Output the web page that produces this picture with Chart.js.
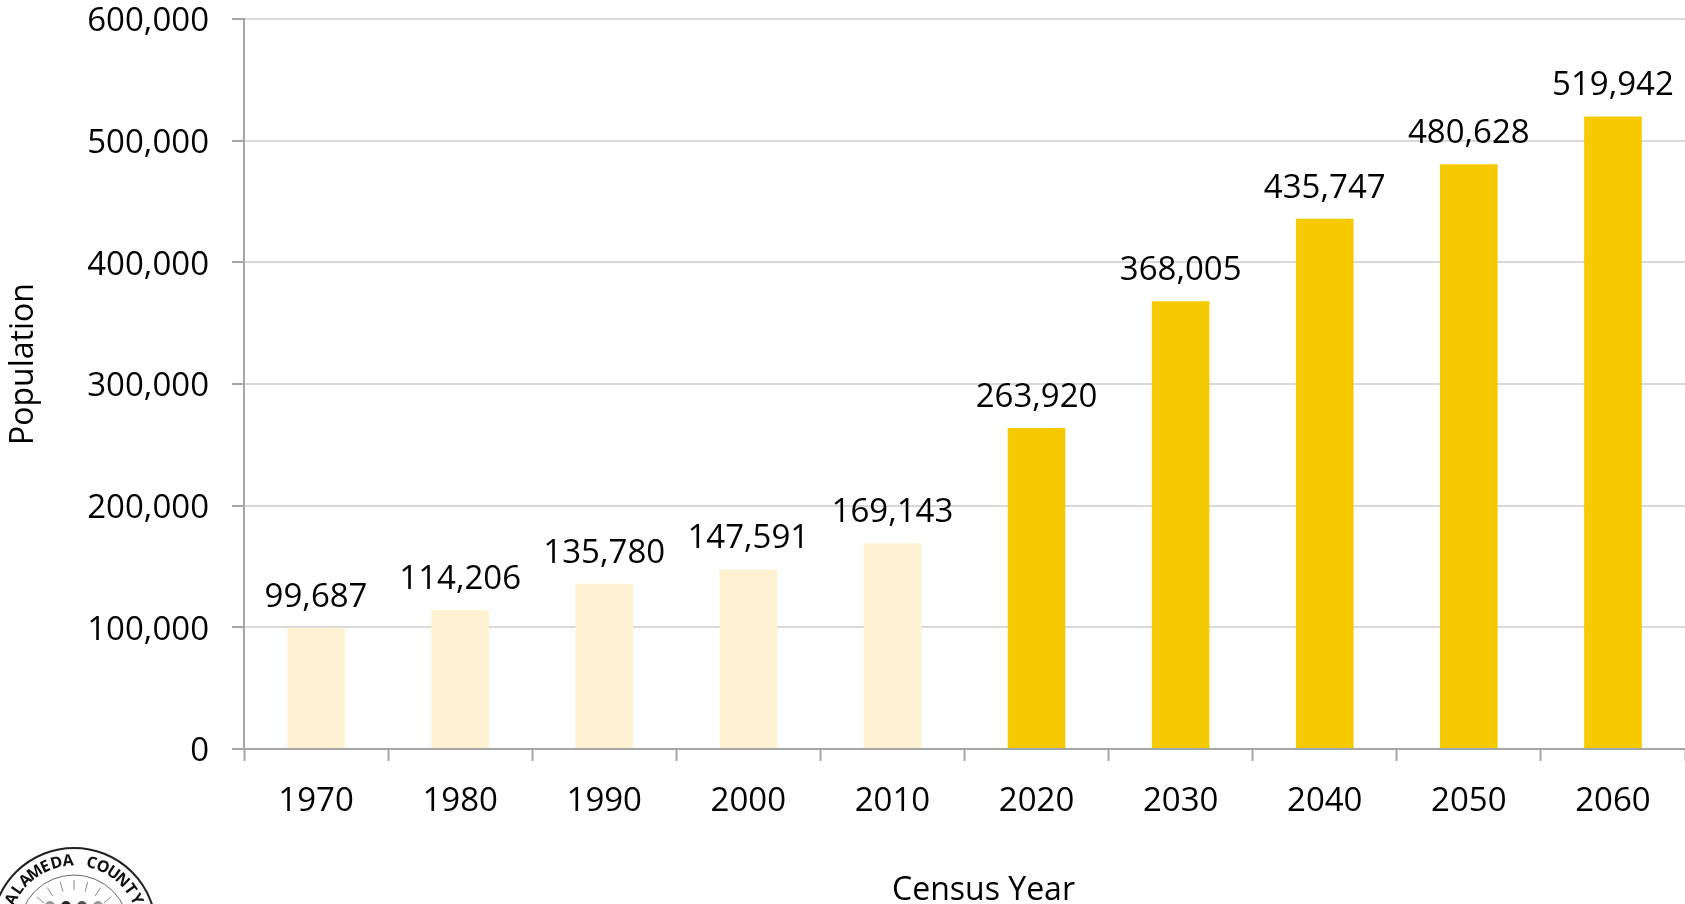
<!DOCTYPE html>
<html>
<head>
<meta charset="utf-8">
<script src="https://cdn.jsdelivr.net/npm/chart.js@4"></script>
<style>
    body { margin: 0; background: #fff; }
    #wrap { width: 1685px; height: 904px; }
</style>
</head>
<body>
<div id="wrap"><canvas id="popChart" width="1685" height="904"></canvas></div>
<script>
// census years and population (historic + projected)
const years = ["1970", "1980", "1990", "2000", "2010", "2020", "2030", "2040", "2050", "2060"];
const population = [99687, 114206, 135780, 147591, 169143, 263920, 368005, 435747, 480628, 519942];
const barColors = ["#fff2d3", "#fff2d3", "#fff2d3", "#fff2d3", "#fff2d3",
    "#f6ca00", "#f6ca00", "#f6ca00", "#f6ca00", "#f6ca00"];
const yTicks = [0, 100000, 200000, 300000, 400000, 500000, 600000];

const FONT = "'Open Sans', sans-serif";

// value labels above each bar
const valueLabels = {
    id: "valueLabels",
    afterDatasetsDraw(chart) {
        const ctx = chart.ctx;
        const meta = chart.getDatasetMeta(0);
        ctx.save();
        ctx.font = "33px " + FONT;
        ctx.fillStyle = "#000";
        ctx.textAlign = "center";
        ctx.textBaseline = "alphabetic";
        meta.data.forEach((bar, i) => {
            ctx.fillText(population[i].toLocaleString("en-US"), bar.x, bar.y - 21);
        });
        ctx.restore();
    }
};

// axis titles + county seal in the corner
const extras = {
    id: "extras",
    afterDraw(chart) {
        const ctx = chart.ctx;
        const area = chart.chartArea;
        ctx.save();
        ctx.fillStyle = "#000";
        ctx.font = "32px " + FONT;
        ctx.textAlign = "center";
        ctx.textBaseline = "alphabetic";
        ctx.fillText("Census Year", (area.left + area.right) / 2 + 19, 900);

        ctx.save();
        ctx.translate(33, 364);
        ctx.rotate(-Math.PI / 2);
        ctx.fillText("Population", 0, 0);
        ctx.restore();

        // seal (cut off by the bottom edge)
        const cx = 74, cy = 930, r = 82;
        ctx.strokeStyle = "#222";
        ctx.lineWidth = 2;
        ctx.beginPath();
        ctx.arc(cx, cy, r, 0, Math.PI * 2);
        ctx.stroke();
        ctx.strokeStyle = "#666";
        ctx.lineWidth = 1;
        ctx.beginPath();
        ctx.arc(cx, cy, r - 27, 0, Math.PI * 2);
        ctx.stroke();

        const text = "ALAMEDA COUNTY";
        ctx.fillStyle = "#111";
        ctx.font = "bold 16px " + FONT;
        ctx.textAlign = "center";
        ctx.textBaseline = "middle";
        const span = 2.4;
        const start = -Math.PI / 2 - span / 2;
        for (let i = 0; i < text.length; i++) {
            const a = start + span * (i + 0.5) / text.length;
            ctx.save();
            ctx.translate(cx + Math.cos(a) * (r - 13), cy + Math.sin(a) * (r - 13));
            ctx.rotate(a + Math.PI / 2);
            ctx.fillText(text[i], 0, 0);
            ctx.restore();
        }
        // rays
        ctx.strokeStyle = "#888";
        ctx.lineWidth = 1;
        for (let k = -3; k <= 3; k++) {
            const a = -Math.PI / 2 + k * 0.28;
            ctx.beginPath();
            ctx.moveTo(cx + Math.cos(a) * (r - 32), cy + Math.sin(a) * (r - 32));
            ctx.lineTo(cx + Math.cos(a) * (r - 42), cy + Math.sin(a) * (r - 42));
            ctx.stroke();
        }
        // figures
        const dots = [[-24, "#999"], [-8, "#222"], [8, "#555"], [24, "#999"]];
        dots.forEach(d => {
            ctx.fillStyle = d[1];
            ctx.beginPath();
            ctx.arc(cx + d[0], cy - 24, 5, 0, Math.PI * 2);
            ctx.fill();
        });
        ctx.restore();
    }
};

new Chart(document.getElementById("popChart"), {
    type: "bar",
    data: {
        labels: years,
        datasets: [{
            data: population,
            backgroundColor: barColors,
            barPercentage: 0.8,
            categoryPercentage: 0.5
        }]
    },
    options: {
        responsive: false,
        animation: false,
        layout: { padding: 0 },
        plugins: {
            legend: { display: false },
            tooltip: { enabled: false }
        },
        scales: {
            x: {
                afterFit(scale) { scale.height = 155; },
                grid: {
                    drawOnChartArea: false,
                    drawTicks: true,
                    tickLength: 12,
                    tickColor: "#a6a6a6",
                    tickWidth: 2
                },
                border: { color: "#a6a6a6", width: 2 },
                ticks: {
                    color: "#000",
                    font: { family: FONT, size: 33 },
                    padding: 21
                }
            },
            y: {
                min: 0,
                max: 600000,
                afterFit(scale) {
                    scale.width = 244;
                    scale.paddingTop = 19;
                    scale.paddingBottom = 0;
                },
                afterBuildTicks(scale) { scale.ticks = yTicks.map(v => ({ value: v })); },
                grid: {
                    color: "#d9d9d9",
                    lineWidth: 2,
                    tickLength: 12,
                    tickColor: "#a6a6a6",
                    tickWidth: 2
                },
                border: { color: "#a6a6a6", width: 2 },
                ticks: {
                    color: "#000",
                    font: { family: FONT, size: 33 },
                    padding: 23,
                    labelOffset: 3,
                    callback: v => v.toLocaleString("en-US")
                }
            }
        }
    },
    plugins: [valueLabels, extras]
});
</script>
</body>
</html>
